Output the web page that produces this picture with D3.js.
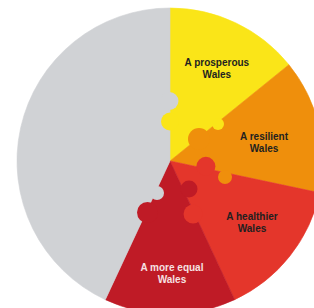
<!DOCTYPE html>
<html>
<head>
<meta charset="utf-8">
<script src="https://cdn.jsdelivr.net/npm/d3@7"></script>
<style>
  html, body { margin: 0; padding: 0; background: #ffffff; }
  svg { display: block; }
</style>
</head>
<body>
<svg id="chart" width="314" height="308"></svg>
<script>
// ---- data ----
const categories = ["A prosperous Wales", "A resilient Wales", "A healthier Wales", "A more equal Wales", "Other"];
const labelLines = [["A prosperous", "Wales"], ["A resilient", "Wales"], ["A healthier", "Wales"], ["A more equal", "Wales"], []];
const shares = [51, 51, 53, 50, 155];          // angular share (degrees of the circle)
const colors = ["#fae518", "#ef8f0c", "#e4362b", "#bf1b26", "#d0d2d5"];
const textColors = ["#231f20", "#231f20", "#231f20", "#f6e1e2", "none"];

// puzzle knobs: angle (deg, clockwise from top), distance from centre, radius, owner segment index
const knobAngles = [-0.5, 0, 52.8, 52.4, 98.5, 106.2, 145.8, 156.5, 202.1, 203.6];
const knobDist   = [60, 39.5, 36.4, 60.6, 36.3, 57.3, 33.8, 57.8, 34.5, 56.2];
const knobRadius = [9, 9, 11, 6, 9.5, 7, 8.5, 9.5, 7, 10.5];
const knobOwner  = [4, 0, 1, 0, 2, 1, 3, 2, 4, 3];

// ---- layout ----
const W = 314, H = 308;
const cx = 170, cy = 161, R = 153;
const labelRadius = [105, 96, 102, 112, 0];
const labelAngleAdj = [1, 2, -2, -1, 0];

const svg = d3.select("#chart");
const g = svg.append("g").attr("transform", `translate(${cx},${cy})`);

const pie = d3.pie().sort(null).value(d => d)
  .startAngle(0).endAngle(2 * Math.PI);
const arcs = pie(shares);
const arc = d3.arc().innerRadius(0).outerRadius(R);

g.selectAll("path.slice")
  .data(arcs)
  .join("path")
  .attr("class", "slice")
  .attr("d", arc)
  .attr("fill", (d, i) => colors[i])
  .attr("stroke", (d, i) => colors[i])
  .attr("stroke-width", 0.6);

const rad = a => a * Math.PI / 180;
const knobs = knobAngles.map((a, i) => {
  const p = d3.pointRadial(rad(a), knobDist[i]);
  return { x: p[0], y: p[1], r: knobRadius[i], c: colors[knobOwner[i]] };
});
g.selectAll("circle.knob")
  .data(knobs)
  .join("circle")
  .attr("class", "knob")
  .attr("cx", d => d.x)
  .attr("cy", d => d.y)
  .attr("r", d => d.r)
  .attr("fill", d => d.c);

// labels
arcs.forEach((d, i) => {
  if (!labelLines[i].length) return;
  const mid = (d.startAngle + d.endAngle) / 2 + rad(labelAngleAdj[i]);
  const p = d3.pointRadial(mid, labelRadius[i]);
  const t = g.append("text")
    .attr("x", p[0])
    .attr("y", p[1])
    .attr("text-anchor", "middle")
    .attr("font-family", "'Liberation Sans', Arial, sans-serif")
    .attr("font-weight", "bold")
    .attr("font-size", 10)
    .attr("fill", textColors[i]);
  labelLines[i].forEach((line, j) => {
    t.append("tspan")
      .attr("x", p[0])
      .attr("dy", j === 0 ? "-0.15em" : "1.2em")
      .text(line);
  });
});
</script>
</body>
</html>
